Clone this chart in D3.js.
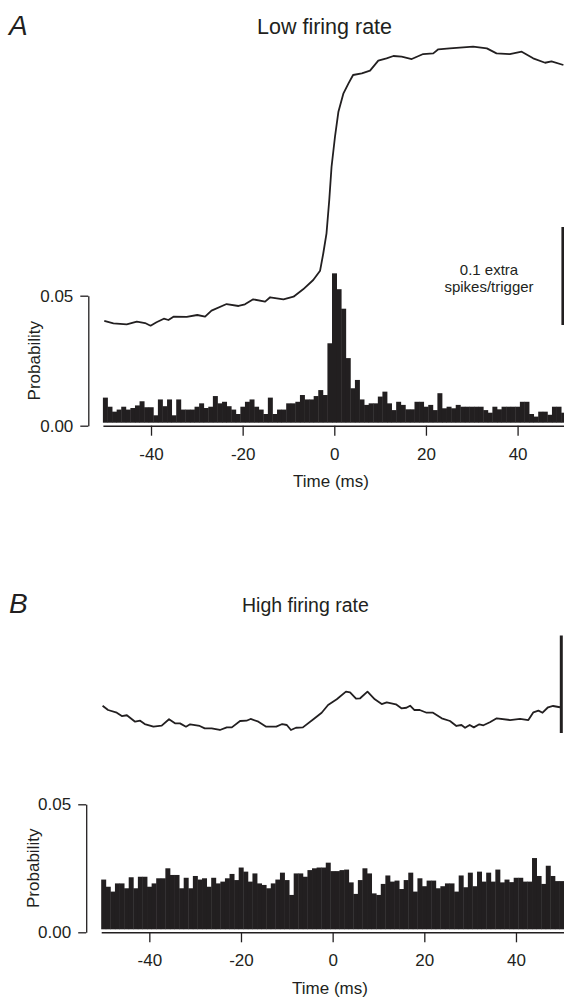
<!DOCTYPE html>
<html><head><meta charset="utf-8">
<script src="https://cdn.jsdelivr.net/npm/d3@7"></script>
<style>
html,body{margin:0;padding:0;background:#fff;}
svg{display:block;font-family:"Liberation Sans",Arial,Helvetica,sans-serif;}
</style></head>
<body>
<svg id="c" width="564" height="997"></svg>
<script>
// ---------- DATA ----------
const binCenters = d3.range(-50, 51); // ms, 1-ms bins
const tickTimes = [-40, -20, 0, 20, 40];
const tickTimeLabels = ["-40", "-20", "0", "20", "40"];
const probTicks = [0, 0.05];
const probTickLabels = ["0.00", "0.05"];

// Panel A (low firing rate) histogram probabilities, bins -50..50 ms
const probA = [
  0.0108,0.0073,0.0054,0.0062,0.0073,0.0062,0.0068,0.0078,0.0094,0.0071,
  0.0071,0.0040,0.0101,0.0075,0.0101,0.0040,0.0101,0.0062,0.0062,0.0062,
  0.0073,0.0086,0.0068,0.0073,0.0114,0.0086,0.0092,0.0075,0.0062,0.0045,
  0.0073,0.0092,0.0101,0.0073,0.0062,0.0045,0.0108,0.0045,0.0062,0.0062,
  0.0086,0.0086,0.0092,0.0118,0.0101,0.0101,0.0114,0.0137,0.0118,0.0317,
  0.0586,0.0525,0.0450,0.0260,0.0144,0.0176,0.0101,0.0080,0.0086,0.0086,
  0.0112,0.0131,0.0086,0.0060,0.0092,0.0080,0.0063,0.0063,0.0092,0.0092,
  0.0073,0.0080,0.0060,0.0125,0.0067,0.0073,0.0067,0.0080,0.0073,0.0073,
  0.0073,0.0073,0.0073,0.0060,0.0050,0.0073,0.0063,0.0073,0.0073,0.0073,
  0.0073,0.0092,0.0092,0.0045,0.0035,0.0054,0.0054,0.0042,0.0073,0.0073,
  0.0050
];

// Panel B (high firing rate) histogram probabilities, bins -50..50 ms
const probB = [
  0.0206,0.0178,0.0159,0.0191,0.0191,0.0172,0.0215,0.0172,0.0217,0.0217,
  0.0178,0.0191,0.0211,0.0211,0.0250,0.0224,0.0224,0.0172,0.0213,0.0172,
  0.0220,0.0206,0.0211,0.0178,0.0213,0.0191,0.0198,0.0211,0.0228,0.0204,
  0.0253,0.0237,0.0198,0.0230,0.0191,0.0185,0.0172,0.0191,0.0206,0.0233,
  0.0204,0.0146,0.0230,0.0230,0.0217,0.0243,0.0250,0.0253,0.0253,0.0272,
  0.0239,0.0239,0.0243,0.0245,0.0195,0.0150,0.0204,0.0250,0.0230,0.0152,
  0.0146,0.0189,0.0222,0.0198,0.0202,0.0169,0.0204,0.0233,0.0159,0.0211,
  0.0180,0.0202,0.0202,0.0172,0.0180,0.0191,0.0191,0.0159,0.0222,0.0176,
  0.0233,0.0180,0.0237,0.0198,0.0233,0.0198,0.0245,0.0195,0.0206,0.0196,
  0.0213,0.0213,0.0198,0.0198,0.0290,0.0220,0.0189,0.0260,0.0220,0.0200,
  0.0200
];

// Cumulative sum traces (extra spikes/trigger, arbitrary offset)
const cusumTimeA = [-50.2,-48.2,-45.3,-43.1,-41.3,-40.1,-38.8,-37.2,-36.2,-35.1,-32.2,-29.9,-28.2,-26.8,-23.5,-20.9,-19.5,-17.7,-15.1,-14.0,-11.1,-8.9,-6.8,-4.6,-3.1,-2.4,-1.7,-1.1,-0.6,0.15,0.9,2.0,3.1,4.1,6.0,7.8,9.6,11.4,12.9,14.7,16.9,19.4,21.6,22.7,25.2,30.3,33.3,35.4,38.3,40.9,43.4,46.0,47.4,50.0];
const cusumA = [0.0041,0.0017,0.0007,0.0034,0.0020,-0.0007,0.0028,0.0064,0.0051,0.0085,0.0082,0.0102,0.0085,0.0146,0.0214,0.0194,0.0211,0.0262,0.0238,0.0283,0.0262,0.0289,0.0364,0.0459,0.0554,0.0732,0.0936,0.1276,0.1615,0.1921,0.2177,0.2364,0.2466,0.2551,0.2568,0.2595,0.2697,0.2721,0.2745,0.2738,0.2714,0.2765,0.2772,0.2813,0.2823,0.2840,0.2823,0.2772,0.2765,0.2789,0.2721,0.2676,0.2690,0.2653];

const cusumTimeB = [-50.2,-49.0,-47.1,-46.0,-44.9,-43.1,-42.0,-41.0,-39.1,-37.3,-35.7,-34.4,-33.3,-32.0,-31.1,-29.0,-27.9,-26.4,-24.6,-23.1,-22.0,-20.2,-18.8,-17.9,-16.2,-14.5,-12.3,-11.0,-10.0,-9.1,-8.0,-6.5,-4.2,-2.4,-1.0,0.9,2.9,3.8,5.1,6.0,7.6,9.2,10.7,11.8,13.8,15.0,16.1,16.9,17.8,19.0,20.5,21.9,23.8,25.6,27.0,28.1,28.9,29.9,30.8,32.0,32.9,34.3,35.8,38.7,40.9,42.7,43.8,44.9,45.8,47.0,48.1,49.6];
const cusumB = [0.0280,0.0236,0.0208,0.0174,0.0182,0.0116,0.0126,0.0092,0.0065,0.0075,0.0141,0.0099,0.0099,0.0065,0.0089,0.0072,0.0048,0.0048,0.0031,0.0058,0.0058,0.0123,0.0126,0.0144,0.0116,0.0065,0.0065,0.0092,0.0082,0.0031,0.0054,0.0058,0.0141,0.0208,0.0287,0.0346,0.0424,0.0417,0.0352,0.0356,0.0424,0.0346,0.0297,0.0315,0.0294,0.0253,0.0259,0.0280,0.0236,0.0236,0.0208,0.0208,0.0151,0.0123,0.0072,0.0082,0.0054,0.0082,0.0058,0.0089,0.0079,0.0110,0.0151,0.0133,0.0144,0.0133,0.0212,0.0229,0.0208,0.0264,0.0277,0.0264];

const scaleBarValue = 0.1;
const panelLetters = ["A", "B"];
const panelTitles = ["Low firing rate", "High firing rate"];
const scaleBarLabel = ["0.1 extra", "spikes/trigger"];

// ---------- DRAW ----------
const svg = d3.select("#c");
const ink = "#221f20";

function panel(cfg) {
  const g = svg.append("g");
  const x = d3.scaleLinear().domain([-50.5, 50.5]).range(cfg.xRange);
  const y = d3.scaleLinear().domain([0, 0.05]).range([cfg.y0, cfg.y05]);
  const yc = d3.scaleLinear().domain([0, scaleBarValue]).range(cfg.cRange);

  // letter + title
  g.append("text").attr("x", 9).attr("y", cfg.letterY)
    .attr("font-size", 28).attr("font-style", "italic").attr("fill", ink)
    .text(cfg.letter);
  g.append("text").attr("x", cfg.titleX).attr("y", cfg.titleY)
    .attr("font-size", cfg.titleSize).attr("fill", ink).text(cfg.title);

  // histogram
  const bw = x(1) - x(0);
  g.append("g").selectAll("rect").data(cfg.probs).join("rect")
    .attr("x", (d, i) => x(binCenters[i] - 0.5))
    .attr("width", bw + 0.4)
    .attr("y", d => y(d))
    .attr("height", d => Math.max(0, y(0) - cfg.gap - y(d)))
    .attr("fill", ink);

  // x axis
  const xa = g.append("g").attr("transform", `translate(0,${y(0)})`)
    .call(d3.axisBottom(x).tickValues(tickTimes).tickSize(10).tickSizeOuter(0).tickPadding(12)
      .tickFormat((d, i) => tickTimeLabels[i]));
  xa.select(".domain").attr("stroke", ink).attr("stroke-width", 1.6);
  xa.selectAll(".tick line").attr("stroke", ink).attr("stroke-width", 1.3);
  xa.selectAll(".tick text").attr("font-size", 17).attr("fill", ink)
    .attr("font-family", "Liberation Sans, Arial, sans-serif");
  g.append("text").attr("x", cfg.xTitleX).attr("y", cfg.xTitleY)
    .attr("text-anchor", "middle").attr("font-size", 17).attr("fill", ink).text("Time (ms)");

  // y axis
  const ya = g.append("g").attr("transform", `translate(${cfg.yAxisX},0)`)
    .call(d3.axisLeft(y).tickValues(probTicks).tickSize(8).tickSizeOuter(0).tickPadding(7)
      .tickFormat((d, i) => probTickLabels[i]));
  ya.select(".domain").attr("stroke", ink).attr("stroke-width", 1.3);
  ya.selectAll(".tick line").attr("stroke", ink).attr("stroke-width", 1.3);
  ya.selectAll(".tick text").attr("font-size", 17).attr("fill", ink)
    .attr("font-family", "Liberation Sans, Arial, sans-serif");
  g.append("text")
    .attr("transform", `translate(${cfg.yTitleX},${(y(0) + y(0.05)) / 2}) rotate(-90)`)
    .attr("text-anchor", "middle").attr("font-size", 17).attr("fill", ink).text("Probability");

  // cusum trace
  const line = d3.line().x((d, i) => x(cfg.ct[i])).y(d => yc(d));
  g.append("path").datum(cfg.cv).attr("d", line)
    .attr("fill", "none").attr("stroke", ink).attr("stroke-width", 1.8)
    .attr("stroke-linejoin", "round");

  // scale bar
  g.append("line").attr("x1", cfg.barX).attr("x2", cfg.barX)
    .attr("y1", yc(0)).attr("y2", yc(scaleBarValue))
    .attr("stroke", ink).attr("stroke-width", cfg.barW);
  if (cfg.barLabel) {
    cfg.barLabel.forEach((t, i) => {
      g.append("text").attr("x", 489).attr("y", 275 + i * 17)
        .attr("text-anchor", "middle").attr("font-size", 15).attr("fill", ink).text(t);
    });
  }
}

panel({
  letter: panelLetters[0], letterY: 35, title: panelTitles[0], titleX: 257, titleY: 34, titleSize: 21.5,
  xRange: [102.9, 565.7], y0: 425.7, y05: 295.7, gap: 3,
  cRange: [325, 227], probs: probA, ct: cusumTimeA, cv: cusumA,
  yAxisX: 88.3, yTitleX: 40, xTitleX: 331, xTitleY: 487,
  barX: 562.7, barW: 2.6, barLabel: scaleBarLabel
});
panel({
  letter: panelLetters[1], letterY: 613, title: panelTitles[1], titleX: 242, titleY: 612, titleSize: 19.5,
  xRange: [101.2, 564.1], y0: 932.3, y05: 804.3, gap: 3,
  cRange: [733, 635.5], probs: probB, ct: cusumTimeB, cv: cusumB,
  yAxisX: 86.2, yTitleX: 39, xTitleX: 330, xTitleY: 994,
  barX: 561.3, barW: 3, barLabel: null
});
</script>
</body></html>
